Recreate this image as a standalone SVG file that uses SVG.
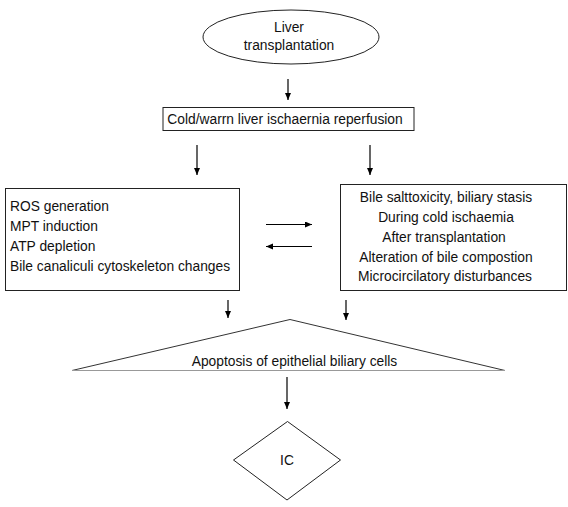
<svg xmlns="http://www.w3.org/2000/svg" width="568" height="507" viewBox="0 0 568 507">
<defs>
<marker id="ah" markerUnits="userSpaceOnUse" markerWidth="8" markerHeight="8" refX="7" refY="3" orient="auto">
<path d="M0,0 L7,3 L0,6 Z" fill="#000"/>
</marker>
<style>
text{font-family:"Liberation Sans",Arial,sans-serif;font-size:13.8px;fill:#111}
.m{text-anchor:middle}
.shape{fill:#fff;stroke:#222;stroke-width:1}
.c line{stroke:#000;stroke-width:1.2;marker-end:url(#ah)}
</style>
</defs>
<rect width="568" height="507" fill="#fff"/>
<g id="liver-transplantation">
<ellipse class="shape" cx="291" cy="37" rx="88" ry="27"/>
<text class="m" x="289" y="32">Liver</text>
<text class="m" x="289" y="50">transplantation</text>
</g>
<g id="ischaemia-reperfusion">
<rect class="shape" x="163" y="107.5" width="251" height="23"/>
<text class="m" x="285" y="123.5">Cold/warrn liver ischaernia reperfusion</text>
</g>
<g id="cellular-mechanisms">
<rect class="shape" x="5.5" y="188.5" width="234" height="102"/>
<text x="10" y="211">ROS generation</text>
<text x="10" y="231">MPT induction</text>
<text x="10" y="251">ATP depletion</text>
<text x="10" y="271">Bile canaliculi cytoskeleton changes</text>
</g>
<g id="bile-factors">
<rect class="shape" x="340.5" y="184.5" width="226" height="106"/>
<text class="m" x="446" y="202">Bile salttoxicity, biliary stasis</text>
<text class="m" x="446" y="222">During cold ischaemia</text>
<text class="m" x="444" y="241.5">After transplantation</text>
<text class="m" x="446" y="261.5">Alteration of bile compostion</text>
<text class="m" x="445" y="281">Microcircilatory disturbances</text>
</g>
<g id="apoptosis">
<polyline points="72,370.5 290,319.5 505,370.5" fill="none" stroke="#333" stroke-width="1"/>
<line x1="72" y1="370.5" x2="505" y2="370.5" stroke="#999" stroke-width="1.2"/>
<text class="m" x="294.5" y="366">Apoptosis of epithelial biliary cells</text>
</g>
<g id="ic">
<polygon class="shape" points="287.5,421.5 340.5,460 287,500 233.5,460"/>
<text class="m" x="287" y="464.5">IC</text>
</g>
<g id="connectors" class="c">
<line x1="288" y1="79" x2="288" y2="100"/>
<line x1="197" y1="145" x2="197" y2="175"/>
<line x1="370" y1="145" x2="370" y2="175"/>
<line x1="266" y1="224.5" x2="312" y2="224.5"/>
<line x1="312" y1="246.5" x2="266" y2="246.5"/>
<line x1="228" y1="300" x2="228" y2="318"/>
<line x1="346" y1="300" x2="346" y2="320"/>
<line x1="287" y1="377" x2="287" y2="409"/>
</g>
</svg>
